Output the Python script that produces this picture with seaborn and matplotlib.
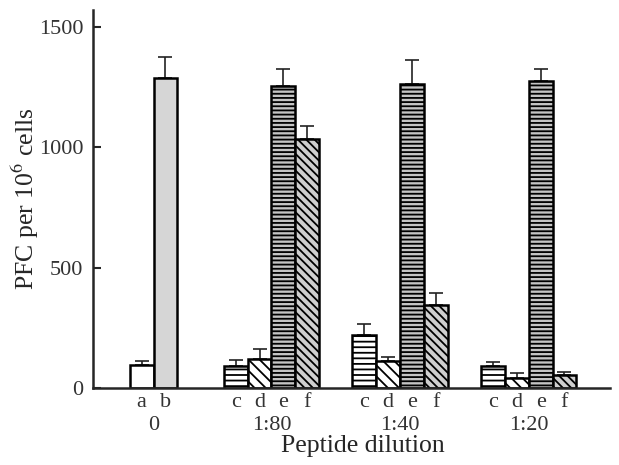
import matplotlib
matplotlib.use('Agg')
import matplotlib.pyplot as plt
import pandas as pd
import seaborn as sns

# values
groups = ['0', '1:80', '1:40', '1:20']
letters = [['a', 'b'], ['c', 'd', 'e', 'f'], ['c', 'd', 'e', 'f'], ['c', 'd', 'e', 'f']]
pfc = [[95, 1290], [90, 120, 1255, 1035], [220, 110, 1265, 345], [90, 42, 1275, 52]]
pfc_err = [[15, 85], [25, 40, 70, 55], [45, 20, 100, 50], [18, 18, 50, 15]]

# layout: first bar of each group, in bar widths from the y axis
group_start = [2.05, 6.0, 11.4, 16.8]

sns.set_style('ticks')
plt.rcParams['font.family'] = ['Liberation Serif', 'DejaVu Serif']
plt.rcParams['mathtext.fontset'] = 'stix'
plt.rcParams['hatch.linewidth'] = 1.3

rows = []
for g, name in enumerate(groups):
    for i, let in enumerate(letters[g]):
        rows.append({'group': name, 'letter': let, 'pos': group_start[g] + i,
                     'pfc': pfc[g][i], 'err': pfc_err[g][i]})
df = pd.DataFrame(rows)

styles = {
    'a': ('white', ''),
    'b': ('#d6d6d6', ''),
    'c': ('white', '---'),
    'd': ('white', '\\\\\\'),
    'e': ('#c4c4c4', '----'),
    'f': ('#cfcfcf', '\\\\\\\\'),
}

fig, ax = plt.subplots(figsize=(6.19, 4.65), dpi=100)
fig.subplots_adjust(left=0.150, right=0.985, bottom=0.166, top=0.978)

sns.barplot(data=df, x='pos', y='pfc', native_scale=True, width=1, errorbar=None,
            color='white', edgecolor='black', linewidth=1.8, ax=ax)

for patch, let in zip(ax.patches, df['letter']):
    fc, hatch = styles[let]
    patch.set_facecolor(fc)
    patch.set_hatch(hatch)
    patch.set_edgecolor('black')

ax.errorbar(df['pos'], df['pfc'], yerr=[[0] * len(df), df['err']], fmt='none',
            ecolor='#222222', elinewidth=1.2, capsize=5, capthick=1.2, zorder=0.5)

ax.set_xlim(0, 21.7)
ax.set_ylim(0, 1570)
ax.set_yticks([0, 500, 1000, 1500])
ax.tick_params(axis='y', direction='in', length=6, width=1.5, labelsize=16,
               labelcolor='#333333', pad=7)

ax.set_xticks(df['pos'], labels=df['letter'])
centers = [group_start[g] + (len(letters[g]) - 1) / 2 for g in range(len(groups))]
ax.set_xticks(centers, labels=groups, minor=True)
ax.tick_params(axis='x', which='major', length=0, labelsize=16, pad=4, labelcolor='#333333')
ax.tick_params(axis='x', which='minor', length=0, labelsize=16, pad=20, labelcolor='#333333')

ax.set_xlabel('Peptide dilution', fontsize=18.5, labelpad=0)
ax.xaxis.label.set_x(0.523)
ax.set_ylabel('PFC per 10$^6$ cells', fontsize=18.5)
ax.yaxis.set_label_coords(-0.10, 0.5)

sns.despine(ax=ax)
for side in ['left', 'bottom']:
    ax.spines[side].set_linewidth(1.8)

fig.savefig('out.png', dpi=100)
